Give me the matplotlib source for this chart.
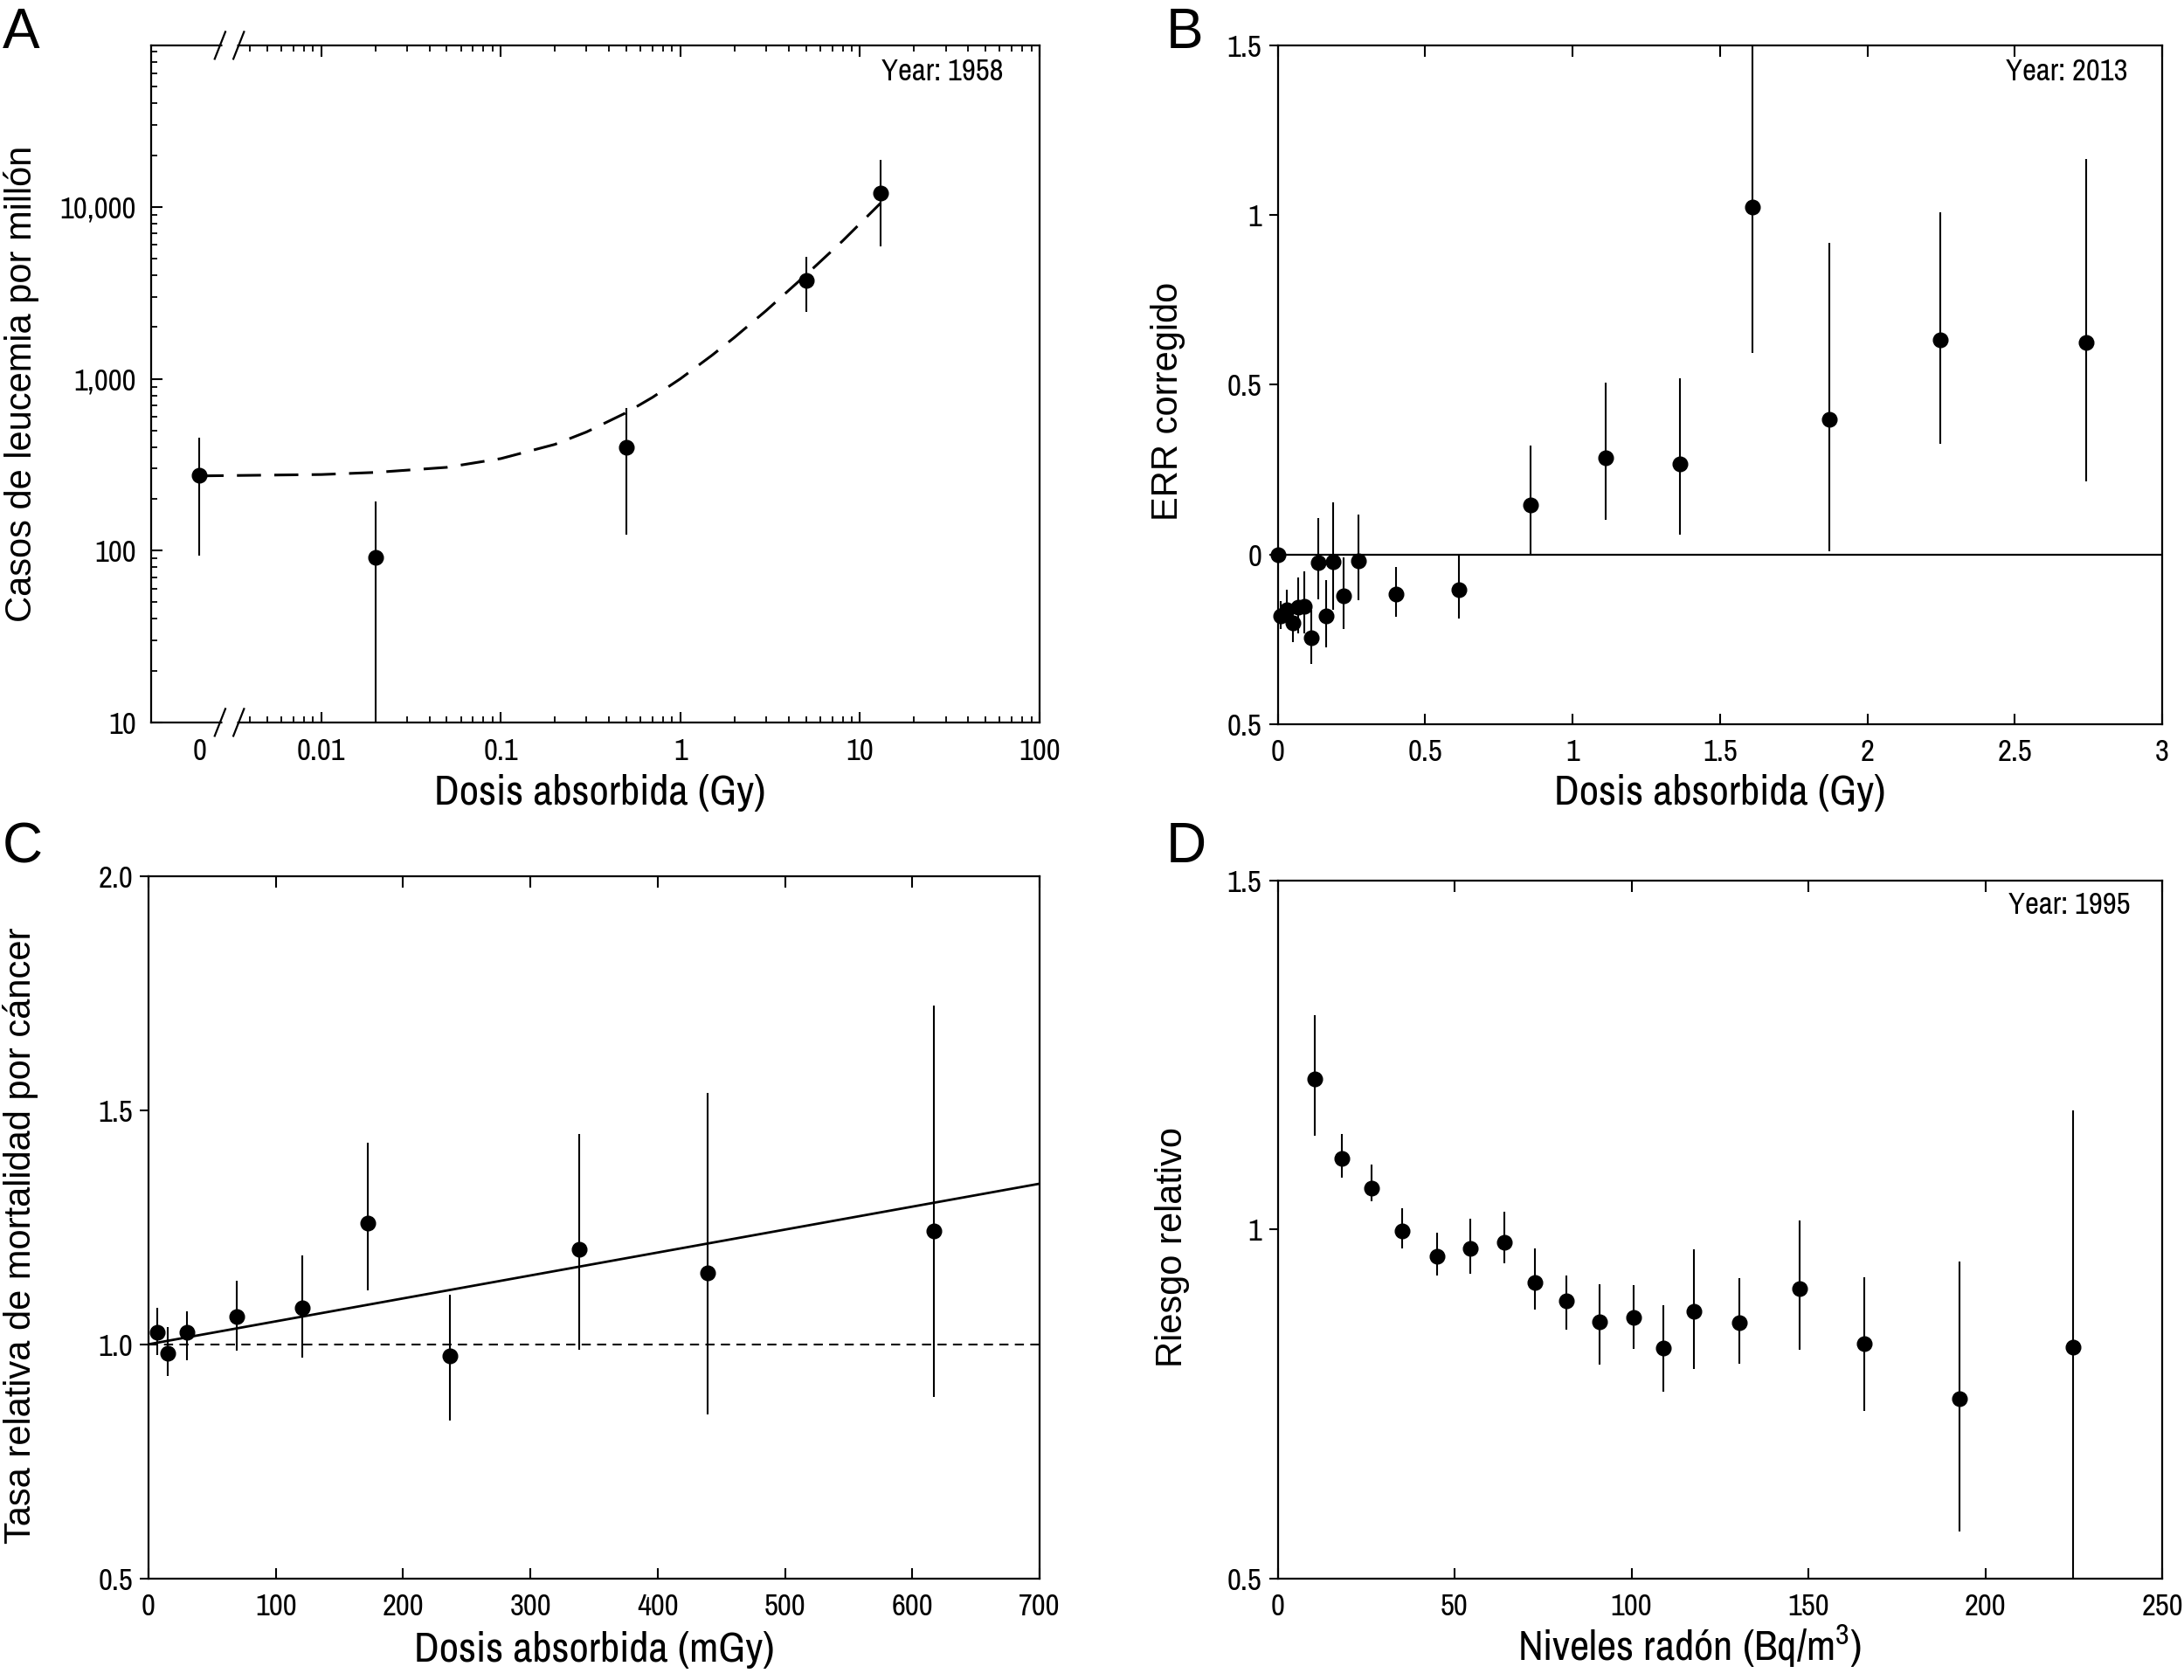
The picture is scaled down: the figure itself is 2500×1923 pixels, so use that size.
import matplotlib
matplotlib.use('Agg')
import matplotlib.pyplot as plt
import numpy as np

narrow = ['Archivo Narrow', 'DejaVu Sans']
regular = ['Liberation Sans', 'DejaVu Sans']
plt.rcParams['font.family'] = narrow
plt.rcParams['mathtext.fontset'] = 'custom'
plt.rcParams['mathtext.rm'] = 'Archivo Narrow'
plt.rcParams['mathtext.default'] = 'regular'

# --- A: leukemia cases vs dose (1958) ---
a_dose = [0, 0.02, 0.5, 5, 13]
a_cases = [274, 91, 398, 3730, 12100]
a_hi = [453, 194, 673, 5120, 18800]
a_lo = [93, 10, 124, 2460, 5900]
a_fit_dose = [0, 0.01, 0.02, 0.05, 0.1, 0.2, 0.3, 0.5, 0.7, 1, 1.5, 2, 3, 5, 8, 13]
a_fit_cases = [272, 277, 285, 305, 343, 415, 490, 635, 780, 1000, 1370, 1740, 2490, 4020, 6340, 10500]
a_zero_pos = 0.0021   # where the "0" dose sits on the broken log axis
a_xticklabels = ['0', '0.01', '0.1', '1', '10', '100']
a_yticklabels = ['10', '100', '1,000', '10,000']

# --- B: ERR vs dose (2013) ---
b_dose = [0, 0.009, 0.030, 0.052, 0.069, 0.091, 0.114, 0.138, 0.164, 0.188, 0.225, 0.275,
          0.401, 0.615, 0.857, 1.112, 1.363, 1.609, 1.870, 2.246, 2.741]
b_err = [0, -0.182, -0.163, -0.202, -0.156, -0.152, -0.246, -0.024, -0.182, -0.021, -0.122, -0.019,
         -0.116, -0.105, 0.146, 0.285, 0.266, 1.024, 0.399, 0.632, 0.624]
b_hi = [0, -0.137, -0.105, -0.150, -0.069, -0.051, -0.163, 0.107, -0.075, 0.153, -0.009, 0.117,
        -0.037, 0.0, 0.321, 0.506, 0.520, 1.5, 0.918, 1.009, 1.164]
b_lo = [0, -0.219, -0.200, -0.259, -0.233, -0.233, -0.324, -0.133, -0.275, -0.163, -0.219, -0.135,
        -0.184, -0.189, 0.0, 0.102, 0.058, 0.593, 0.008, 0.325, 0.215]
b_yticklabels = ['0.5', '0', '0.5', '1', '1.5']
b_xticklabels = ['0', '0.5', '1', '1.5', '2', '2.5', '3']

# --- C: relative cancer mortality vs dose (mGy) ---
c_dose = [7, 15, 30, 69, 121, 172, 237, 338, 439, 617]
c_rate = [1.026, 0.980, 1.026, 1.059, 1.078, 1.259, 0.975, 1.203, 1.152, 1.243]
c_hi = [1.078, 1.037, 1.071, 1.136, 1.189, 1.430, 1.106, 1.449, 1.537, 1.724]
c_lo = [0.977, 0.933, 0.966, 0.986, 0.971, 1.115, 0.837, 0.989, 0.851, 0.887]
c_fit_dose = [0, 700]
c_fit_rate = [1.0, 1.343]
c_yticklabels = ['0.5', '1.0', '1.5', '2.0']

# --- D: relative risk vs radon (1995) ---
d_radon = [10.5, 18.2, 26.5, 35.2, 45.1, 54.4, 64.1, 72.8, 81.7, 90.9, 100.6, 109.1, 117.6,
           130.6, 147.5, 165.9, 192.8, 224.9]
d_risk = [1.216, 1.102, 1.059, 0.998, 0.962, 0.973, 0.982, 0.924, 0.898, 0.868, 0.874, 0.830,
          0.882, 0.866, 0.915, 0.836, 0.757, 0.831]
d_hi = [1.307, 1.137, 1.093, 1.030, 0.995, 1.015, 1.025, 0.973, 0.934, 0.921, 0.920, 0.891,
        0.971, 0.930, 1.013, 0.931, 0.954, 1.170]
d_lo = [1.134, 1.074, 1.040, 0.973, 0.934, 0.936, 0.951, 0.885, 0.856, 0.806, 0.829, 0.768,
        0.800, 0.807, 0.828, 0.740, 0.567, 0.5]
d_yticklabels = ['0.5', '1', '1.5']

TICK = 25
XLABEL = 35
YLABEL = 30
YEAR = 25
MS = 12
LW_AX = 1.6


def points(ax, x, y, lo, hi):
    y = np.asarray(y, float)
    yerr = [y - np.asarray(lo, float), np.asarray(hi, float) - y]
    ax.errorbar(x, y, yerr=yerr, fmt='o', color='black', ms=MS, elinewidth=1.5,
                capsize=0, zorder=5, clip_on=False)


def style(ax):
    for s in ax.spines.values():
        s.set_linewidth(LW_AX)
    ax.tick_params(labelsize=TICK, width=1.5, length=9)
    ax.tick_params(which='minor', width=1.3, length=5)


fig = plt.figure(figsize=(25, 19.23), dpi=100)

# ---------------- A ----------------
axA = fig.add_axes([0.069, 0.570, 0.407, 0.403])
axA.set_xscale('log')
axA.set_yscale('log')
xA = [a_zero_pos if d == 0 else d for d in a_dose]
xfit = [a_zero_pos if d == 0 else d for d in a_fit_dose]
axA.plot(xfit, a_fit_cases, color='black', lw=2.2, dashes=(9, 5), zorder=3)
points(axA, xA, a_cases, a_lo, a_hi)
axA.set_xlim(10 ** -2.95, 100)
axA.set_ylim(10, 10 ** 4.94)
axA.set_xticks([a_zero_pos, 0.01, 0.1, 1, 10, 100])
axA.set_xticklabels(a_xticklabels)
xminor = [k * 10.0 ** e for e in range(-3, 2) for k in range(2, 10) if k * 10.0 ** e >= 0.0039]
axA.set_xticks(xminor, minor=True)
axA.xaxis.set_minor_formatter(matplotlib.ticker.NullFormatter())
axA.set_yticks([10, 100, 1000, 10000])
axA.set_yticklabels(a_yticklabels)
yminor = [k * 10.0 ** e for e in range(1, 5) for k in range(2, 10) if k * 10.0 ** e < 85000]
axA.set_yticks(yminor, minor=True)
axA.yaxis.set_minor_formatter(matplotlib.ticker.NullFormatter())
style(axA)
axA.tick_params(which='both', direction='in', top=True, right=False)
axA.tick_params(axis='x', pad=12)
axA.tick_params(axis='y', pad=12)
t0 = axA.xaxis.get_major_ticks()[0]
t0.tick1line.set_visible(False)
t0.tick2line.set_visible(False)
# axis break marks
for yb in (0.0, 1.0):
    axA.plot([0.080, 0.097], [yb, yb], color='white', lw=5, transform=axA.transAxes,
             clip_on=False, zorder=10, solid_capstyle='butt')
    for xc in (0.078, 0.099):
        axA.plot([xc - 0.006, xc + 0.006], [yb - 0.02, yb + 0.02], color='black', lw=1.6,
                 transform=axA.transAxes, clip_on=False, zorder=11)
axA.text(0.959, 0.961, 'Year: 1958', transform=axA.transAxes, ha='right', va='center', fontsize=YEAR)
axA.set_xlabel('Dosis absorbida (Gy)', fontsize=XLABEL)
axA.xaxis.set_label_coords(0.505, -0.076)
axA.set_ylabel('Casos de leucemia por millón', fontsize=YLABEL, family=regular)
axA.yaxis.set_label_coords(-0.125, 0.5)

# ---------------- B ----------------
axB = fig.add_axes([0.585, 0.569, 0.405, 0.404])
axB.axhline(0, color='black', lw=1.6, zorder=2)
points(axB, b_dose, b_err, b_lo, b_hi)
axB.set_xlim(0, 3)
axB.set_ylim(-0.5, 1.5)
axB.set_xticks([0, 0.5, 1, 1.5, 2, 2.5, 3])
axB.set_xticklabels(b_xticklabels)
axB.set_yticks([-0.5, 0, 0.5, 1, 1.5])
axB.set_yticklabels(b_yticklabels)
style(axB)
axB.tick_params(axis='x', direction='in', top=True, bottom=True, pad=12)
axB.tick_params(axis='y', direction='out', left=True, right=False, length=7, pad=6)
axB.text(0.961, 0.961, 'Year: 2013', transform=axB.transAxes, ha='right', va='center', fontsize=YEAR)
axB.set_xlabel('Dosis absorbida (Gy)', fontsize=XLABEL)
axB.xaxis.set_label_coords(0.5, -0.073)
axB.set_ylabel('ERR corregido', fontsize=YLABEL, family=regular)
axB.yaxis.set_label_coords(-0.104, 0.476)

# ---------------- C ----------------
axC = fig.add_axes([0.068, 0.0605, 0.408, 0.418])
axC.axhline(1.0, color='black', lw=1.5, dashes=(5, 3.5), zorder=2)
axC.plot(c_fit_dose, c_fit_rate, color='black', lw=2.0, zorder=3)
points(axC, c_dose, c_rate, c_lo, c_hi)
axC.set_xlim(0, 700)
axC.set_ylim(0.5, 2.0)
axC.set_xticks(np.arange(0, 701, 100))
axC.set_yticks([0.5, 1.0, 1.5, 2.0])
axC.set_yticklabels(c_yticklabels)
style(axC)
axC.tick_params(axis='x', direction='in', top=True, bottom=True, pad=12)
axC.tick_params(axis='y', direction='out', left=True, right=False, length=7, pad=6)
axC.set_xlabel('Dosis absorbida (mGy)', fontsize=XLABEL)
axC.xaxis.set_label_coords(0.5, -0.075)
axC.set_ylabel('Tasa relativa de mortalidad por cáncer', fontsize=YLABEL, family=regular)
axC.yaxis.set_label_coords(-0.124, 0.488)

# ---------------- D ----------------
axD = fig.add_axes([0.585, 0.0605, 0.405, 0.4155])
points(axD, d_radon, d_risk, d_lo, d_hi)
axD.set_xlim(0, 250)
axD.set_ylim(0.5, 1.5)
axD.set_xticks(np.arange(0, 251, 50))
axD.set_yticks([0.5, 1, 1.5])
axD.set_yticklabels(d_yticklabels)
style(axD)
axD.tick_params(axis='x', direction='in', top=True, bottom=True, pad=12)
axD.tick_params(axis='y', direction='out', left=True, right=False, length=7, pad=6)
axD.text(0.964, 0.964, 'Year: 1995', transform=axD.transAxes, ha='right', va='center', fontsize=YEAR)
axD.set_xlabel('Niveles radón (Bq/m$^{3}$)', fontsize=XLABEL)
axD.xaxis.set_label_coords(0.466, -0.064)
axD.set_ylabel('Riesgo relativo', fontsize=YLABEL, family=regular)
axD.yaxis.set_label_coords(-0.099, 0.475)

# panel letters
for lx, ly, letter in [(0.001, 0.996, 'A'), (0.534, 0.996, 'B'), (0.001, 0.511, 'C'), (0.534, 0.511, 'D')]:
    fig.text(lx, ly, letter, ha='left', va='top', fontsize=46, family=regular)

fig.savefig('out.png', dpi=100, facecolor='white')
